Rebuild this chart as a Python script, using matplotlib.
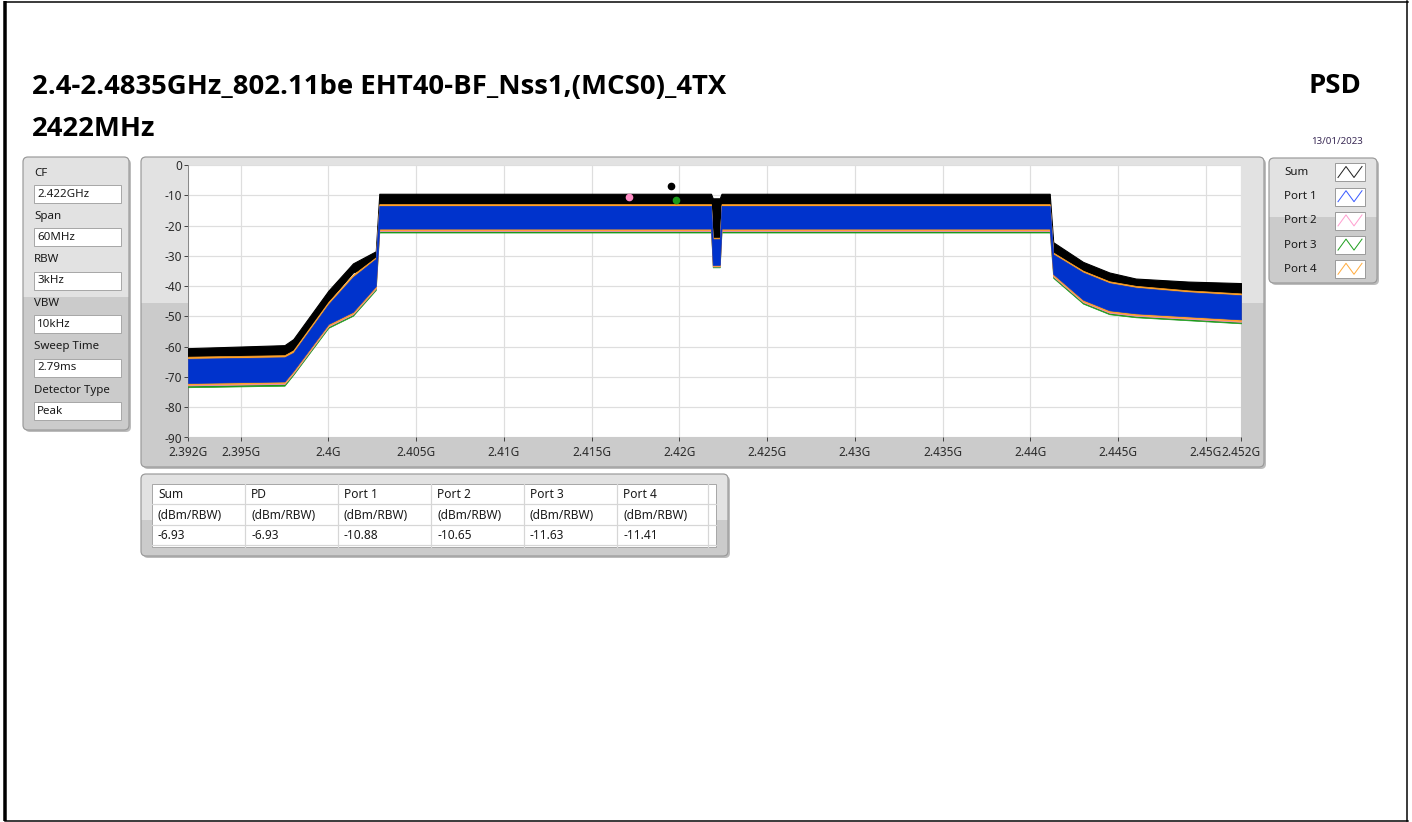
import matplotlib
matplotlib.use("Agg")
import matplotlib.pyplot as plt
from matplotlib.patches import FancyBboxPatch, Rectangle

W, H = 1412, 822

# ---------------- text content ----------------
TITLE = "2.4-2.4835GHz_802.11be EHT40-BF_Nss1,(MCS0)_4TX"
SUBTITLE = "2422MHz"
RIGHT_TITLE = "PSD"
DATE = "13/01/2023"

SETTINGS_LABELS = ["CF", "Span", "RBW", "VBW", "Sweep Time", "Detector Type"]
SETTINGS_VALUES = ["2.422GHz", "60MHz", "3kHz", "10kHz", "2.79ms", "Peak"]

SERIES = ["Sum", "Port 1", "Port 2", "Port 3", "Port 4"]
SERIES_COLORS = ["#000000", "#0033cc", "#ff8cc6", "#1a9a1a", "#ffa126"]
LEGEND_COLORS = ["#222222", "#3b5cff", "#ff9fd0", "#22a022", "#ffac40"]

TABLE_HEAD = ["Sum", "PD", "Port 1", "Port 2", "Port 3", "Port 4"]
TABLE_UNIT = "(dBm/RBW)"
TABLE_VALUES = [-6.93, -6.93, -10.88, -10.65, -11.63, -11.41]

X_TICKS = [2.392, 2.395, 2.400, 2.405, 2.410, 2.415, 2.420, 2.425,
           2.430, 2.435, 2.440, 2.445, 2.450, 2.452]
X_TICK_LABELS = ["2.392G", "2.395G", "2.4G", "2.405G", "2.41G", "2.415G", "2.42G",
                 "2.425G", "2.43G", "2.435G", "2.44G", "2.445G", "2.45G", "2.452G"]
Y_TICKS = [0, -10, -20, -30, -40, -50, -60, -70, -80, -90]

# ---------------- trace envelopes (GHz, dBm) ----------------
FREQ = [2.3920, 2.3975, 2.3980, 2.4000, 2.4014, 2.4027, 2.4029, 2.4218, 2.4219,
        2.4223, 2.4224, 2.4411, 2.4413, 2.4430, 2.4445, 2.4460, 2.4490, 2.4520]

SUM_TOP = [-60.5, -59.5, -57.5, -41.5, -32.5, -28.5, -9.5, -9.5, -11.0,
           -11.0, -9.5, -9.5, -25.5, -32.0, -35.5, -37.5, -38.5, -39.0]
SUM_BOT = [-63.5, -63.0, -61.0, -45.0, -35.5, -33.0, -14.0, -14.0, -26.0,
           -26.0, -14.0, -14.0, -29.0, -36.5, -39.5, -41.0, -42.0, -43.0]

P1_TOP = [-64.0, -63.5, -62.0, -46.0, -37.0, -31.0, -13.5, -13.5, -24.5,
          -24.5, -13.5, -13.5, -29.5, -35.5, -39.0, -40.5, -42.0, -43.0]
P1_BOT = [-72.0, -71.5, -68.0, -52.5, -48.5, -40.0, -21.0, -21.0, -33.0,
          -33.0, -21.0, -21.0, -36.0, -44.5, -48.0, -49.0, -50.0, -51.0]

P2_TOP = [-63.8, -63.3, -61.8, -45.8, -36.8, -30.8, -13.3, -13.3, -24.3,
          -24.3, -13.3, -13.3, -29.3, -35.3, -38.8, -40.3, -41.8, -42.8]
P2_BOT = [-72.8, -72.3, -68.8, -53.3, -49.3, -40.8, -21.8, -21.8, -33.5,
          -33.5, -21.8, -21.8, -36.8, -45.3, -48.8, -49.8, -50.8, -51.8]

P3_TOP = [-63.9, -63.4, -61.9, -45.9, -36.9, -30.9, -13.4, -13.4, -24.4,
          -24.4, -13.4, -13.4, -29.4, -35.4, -38.9, -40.4, -41.9, -42.9]
P3_BOT = [-73.4, -72.9, -69.3, -53.8, -49.8, -41.3, -22.3, -22.3, -33.8,
          -33.8, -22.3, -22.3, -37.3, -45.8, -49.3, -50.3, -51.3, -52.3]

P4_TOP = [-63.3, -62.8, -61.2, -45.2, -36.2, -30.5, -12.9, -12.9, -24.0,
          -24.0, -12.9, -12.9, -28.9, -34.9, -38.4, -39.9, -41.4, -42.4]
P4_BOT = [-72.5, -72.0, -68.5, -53.0, -49.0, -40.5, -21.5, -21.5, -33.3,
          -33.3, -21.5, -21.5, -36.5, -45.0, -48.5, -49.5, -50.5, -51.5]

# peak markers (frequency in GHz, level = table value)
PEAK_SERIES = ["Sum", "Port 2", "Port 3"]
PEAK_FREQ = [2.4195, 2.4171, 2.4198]
PEAK_LEVEL = [-6.93, -10.65, -11.63]

plt.rcParams["font.family"] = ["Noto Sans", "DejaVu Sans"]
BOLD = ["Open Sans", "DejaVu Sans"]

fig = plt.figure(figsize=(W / 100, H / 100), dpi=100)
fig.patch.set_facecolor("white")

bg = fig.add_axes([0, 0, 1, 1], zorder=0)
bg.set_xlim(0, W)
bg.set_ylim(H, 0)
bg.axis("off")

PX = 0.72  # one pixel in points


def panel(x0, y0, x1, y1, split, r=5):
    w, h = x1 - x0, y1 - y0
    bs = f"round,pad=0,rounding_size={r}"
    bg.add_patch(FancyBboxPatch((x0 + 2, y0 + 2), w, h, boxstyle=bs,
                                fc="#bcbcbc", ec="none", zorder=1))
    base = FancyBboxPatch((x0, y0), w, h, boxstyle=bs, fc="#cbcbcb",
                          ec="none", zorder=2)
    bg.add_patch(base)
    top = Rectangle((x0, y0), w, split - y0, fc="#e2e2e2", ec="none", zorder=3)
    bg.add_patch(top)
    top.set_clip_path(base)
    bg.add_patch(FancyBboxPatch((x0, y0), w, h, boxstyle=bs, fc="none",
                                ec="#9a9a9a", lw=1.2 * PX, zorder=4))


def box(x0, y0, x1, y1, fc="white", ec="#a8a8a8", z=5):
    bg.add_patch(Rectangle((x0, y0), x1 - x0, y1 - y0, fc=fc, ec=ec,
                           lw=1 * PX, zorder=z))


# ---------------- outer frame ----------------
bg.plot([5, 5], [1, 821], color="black", lw=3.5 * PX, zorder=10, solid_capstyle="butt")
bg.plot([5, 1408], [2, 2], color="black", lw=1.5 * PX, zorder=10)
bg.plot([1407, 1407], [1, 821], color="black", lw=1.5 * PX, zorder=10)
bg.plot([5, 1408], [821, 821], color="black", lw=1.5 * PX, zorder=10)

# ---------------- titles ----------------
t1 = bg.text(32, 87, TITLE, fontsize=16, fontweight="bold", family=BOLD,
             color="black", va="center", ha="left", zorder=10)
t2 = bg.text(32, 129, SUBTITLE, fontsize=16, fontweight="bold", family=BOLD,
             color="black", va="center", ha="left", zorder=10)
t3 = bg.text(1361, 86, RIGHT_TITLE, fontsize=16, fontweight="bold", family=BOLD,
             color="black", va="center", ha="right", zorder=10)
bg.text(1363, 141, DATE, fontsize=7, color="#3a2a55", va="center", ha="right",
        zorder=10)

# fit the title size to the width it has in the reference
renderer = fig.canvas.get_renderer()
wpx = t1.get_window_extent(renderer).width
size = 16 * 693.0 / wpx
for t in (t1, t2, t3):
    t.set_fontsize(size)

# ---------------- settings panel ----------------
panel(23, 157, 129, 430, 297)
for i, (lab, val) in enumerate(zip(SETTINGS_LABELS, SETTINGS_VALUES)):
    ly = 173 + i * 43.4
    bg.text(34, ly, lab, fontsize=8.3, color="#1a1a1a", va="center", ha="left", zorder=6)
    by0 = 185 + i * 43.4
    box(34, by0, 121, by0 + 18)
    bg.text(37, by0 + 9, val, fontsize=8.3, color="#1a1a1a", va="center", ha="left", zorder=6)

# ---------------- chart panel ----------------
panel(141, 157, 1264, 467, 303)

# ---------------- legend panel ----------------
panel(1269, 158, 1377, 283, 217)
for i, (name, col) in enumerate(zip(SERIES, LEGEND_COLORS)):
    cy = 172.5 + i * 24.2
    bg.text(1284, cy, name, fontsize=8.3, color="#1a1a1a", va="center", ha="left", zorder=6)
    box(1335, cy - 9, 1365, cy + 9, ec="#9c9c9c")
    bg.plot([1338, 1346, 1354, 1362], [cy + 5, cy - 6, cy + 5, cy - 6],
            color=col, lw=1 * PX, zorder=7)

# ---------------- table panel ----------------
panel(141, 474, 728, 556, 520)
col_x = [152, 245, 338, 431, 524, 617, 708, 716]
row_y = [484, 504, 525, 545, 547]
box(col_x[0], row_y[0], col_x[-1], row_y[-1])
for cx in col_x[1:-1]:
    bg.plot([cx, cx], [row_y[0], row_y[-1]], color="#d6d6d6", lw=1.2 * PX, zorder=6)
for ry in row_y[1:-1]:
    bg.plot([col_x[0], col_x[-1]], [ry, ry], color="#d6d6d6", lw=1.2 * PX, zorder=6)
for j, head in enumerate(TABLE_HEAD):
    tx = col_x[j] + 6
    bg.text(tx, 494.5, head, fontsize=8.6, color="#1a1a1a", va="center", ha="left", zorder=7)
    bg.text(tx, 515, TABLE_UNIT, fontsize=8.6, color="#1a1a1a", va="center", ha="left", zorder=7)
    bg.text(tx, 535, f"{TABLE_VALUES[j]:.2f}", fontsize=8.6, color="#1a1a1a",
            va="center", ha="left", zorder=7)

# ---------------- spectrum plot ----------------
px0, py0, px1, py1 = 188, 165, 1241, 437.5
ax = fig.add_axes([px0 / W, 1 - py1 / H, (px1 - px0) / W, (py1 - py0) / H], zorder=2)
ax.set_facecolor("white")
ax.set_xlim(X_TICKS[0], X_TICKS[-1])
ax.set_ylim(-90, 0)
ax.set_xticks(X_TICKS)
ax.set_xticklabels(X_TICK_LABELS)
ax.set_yticks(Y_TICKS)
ax.set_yticklabels([str(v) for v in Y_TICKS])
ax.tick_params(axis="both", direction="out", length=4 * PX, width=1 * PX,
               color="#444444", labelsize=8.5, labelcolor="#2a2a2a", pad=1.5)
ax.tick_params(axis="x", pad=3)
ax.grid(True, color="#dedede", lw=1.2 * PX)
ax.set_axisbelow(True)
for side in ["top", "right", "bottom"]:
    ax.spines[side].set_visible(False)
ax.spines["left"].set_color("#8a8a8a")
ax.spines["left"].set_linewidth(1 * PX)

ax.fill_between(FREQ, SUM_BOT, SUM_TOP, color=SERIES_COLORS[0], lw=0.8, zorder=3)
ax.fill_between(FREQ, P3_BOT, P3_TOP, color=SERIES_COLORS[3], lw=0.5, zorder=4)
ax.fill_between(FREQ, P2_BOT, P2_TOP, color=SERIES_COLORS[2], lw=0.5, zorder=5)
ax.fill_between(FREQ, P4_BOT, P4_TOP, color=SERIES_COLORS[4], lw=0.5, zorder=6)
ax.fill_between(FREQ, P1_BOT, P1_TOP, color=SERIES_COLORS[1], lw=0.5, zorder=7)

for name, f, lvl in zip(PEAK_SERIES, PEAK_FREQ, PEAK_LEVEL):
    ax.plot([f], [lvl], "o", ms=4.5, color=SERIES_COLORS[SERIES.index(name)],
            zorder=9, clip_on=False)

fig.savefig("out.png", dpi=100, facecolor="white")
